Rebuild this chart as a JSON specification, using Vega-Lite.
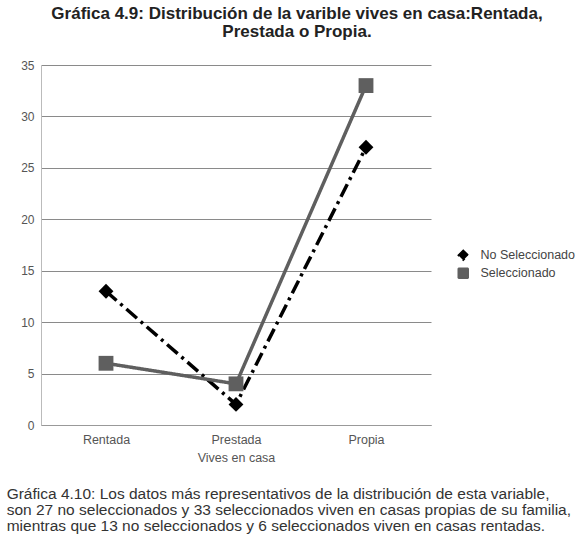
{
  "$schema": "https://vega.github.io/schema/vega-lite/v6.json",
  "background": "white",
  "padding": {"left": 6, "top": 5, "right": 2, "bottom": 2},
  "config": {"font": "Liberation Sans", "view": {"stroke": null}},
  "title": {
    "text": ["Gráfica 4.10: Los datos más representativos de la distribución de esta variable,", "son 27 no seleccionados y 33 seleccionados viven en casas propias de su familia,", "mientras que 13 no seleccionados y 6 seleccionados viven en casas rentadas."],
    "orient": "bottom", "anchor": "start", "frame": "bounds", "dx": -14,
    "fontSize": 15.5, "fontWeight": "normal", "color": "#333", "lineHeight": 16, "offset": 23
  },
  "datasets": {
    "d": [
      {"casa": "Rentada", "serie": "No Seleccionado", "valor": 13},
      {"casa": "Prestada", "serie": "No Seleccionado", "valor": 2},
      {"casa": "Propia", "serie": "No Seleccionado", "valor": 27},
      {"casa": "Rentada", "serie": "Seleccionado", "valor": 6},
      {"casa": "Prestada", "serie": "Seleccionado", "valor": 4},
      {"casa": "Propia", "serie": "Seleccionado", "valor": 33}
    ]
  },
  "vconcat": [
    {
      "width": 390,
      "height": 360,
      "title": {
        "text": ["Gráfica 4.9: Distribución de la varible vives en casa:Rentada,", "Prestada o Propia."],
        "anchor": "middle", "frame": "group", "dx": 61,
        "fontSize": 17, "fontWeight": "bold", "color": "#222", "lineHeight": 18, "offset": 18
      },
      "data": {"name": "d"},
      "encoding": {
        "x": {"field": "casa", "type": "nominal", "sort": ["Rentada", "Prestada", "Propia"],
          "scale": {"paddingInner": 0, "paddingOuter": 0},
          "axis": {"title": "Vives en casa", "labelAngle": 0, "labelFontSize": 12.5, "labelColor": "#555", "titleFontSize": 12.5, "titleColor": "#555", "titleFontWeight": "normal", "labelPadding": 8, "titlePadding": 6, "ticks": false, "domainColor": "#999", "grid": false}},
        "y": {"field": "valor", "type": "quantitative", "scale": {"domain": [0, 35]},
          "axis": {"title": null, "values": [0, 5, 10, 15, 20, 25, 30, 35], "labelFontSize": 12, "labelColor": "#555", "labelPadding": 7, "ticks": false, "domainColor": "#bbb", "gridColor": "#8a8a8a", "gridWidth": 1}},
        "color": {"field": "serie", "type": "nominal", "scale": {"domain": ["No Seleccionado", "Seleccionado"], "range": ["#000000", "#5f5f5f"]},
          "legend": {"title": null, "orient": "none", "legendX": 416, "legendY": 184, "labelFontSize": 12.5, "labelColor": "#444", "symbolSize": 100, "rowPadding": 1, "labelOffset": 11}}
      },
      "layer": [
        {
          "mark": {"type": "line", "strokeWidth": 3.5},
          "encoding": {
            "strokeDash": {"field": "serie", "type": "nominal", "scale": {"domain": ["No Seleccionado", "Seleccionado"], "range": [[14, 5, 3, 5], [1, 0]]}, "legend": null}
          }
        },
        {
          "mark": {"type": "point", "filled": true, "opacity": 1, "size": 220},
          "encoding": {
            "shape": {"field": "serie", "type": "nominal", "scale": {"domain": ["No Seleccionado", "Seleccionado"], "range": ["diamond", "square"]}}
          }
        }
      ]
    }
  ]
}
